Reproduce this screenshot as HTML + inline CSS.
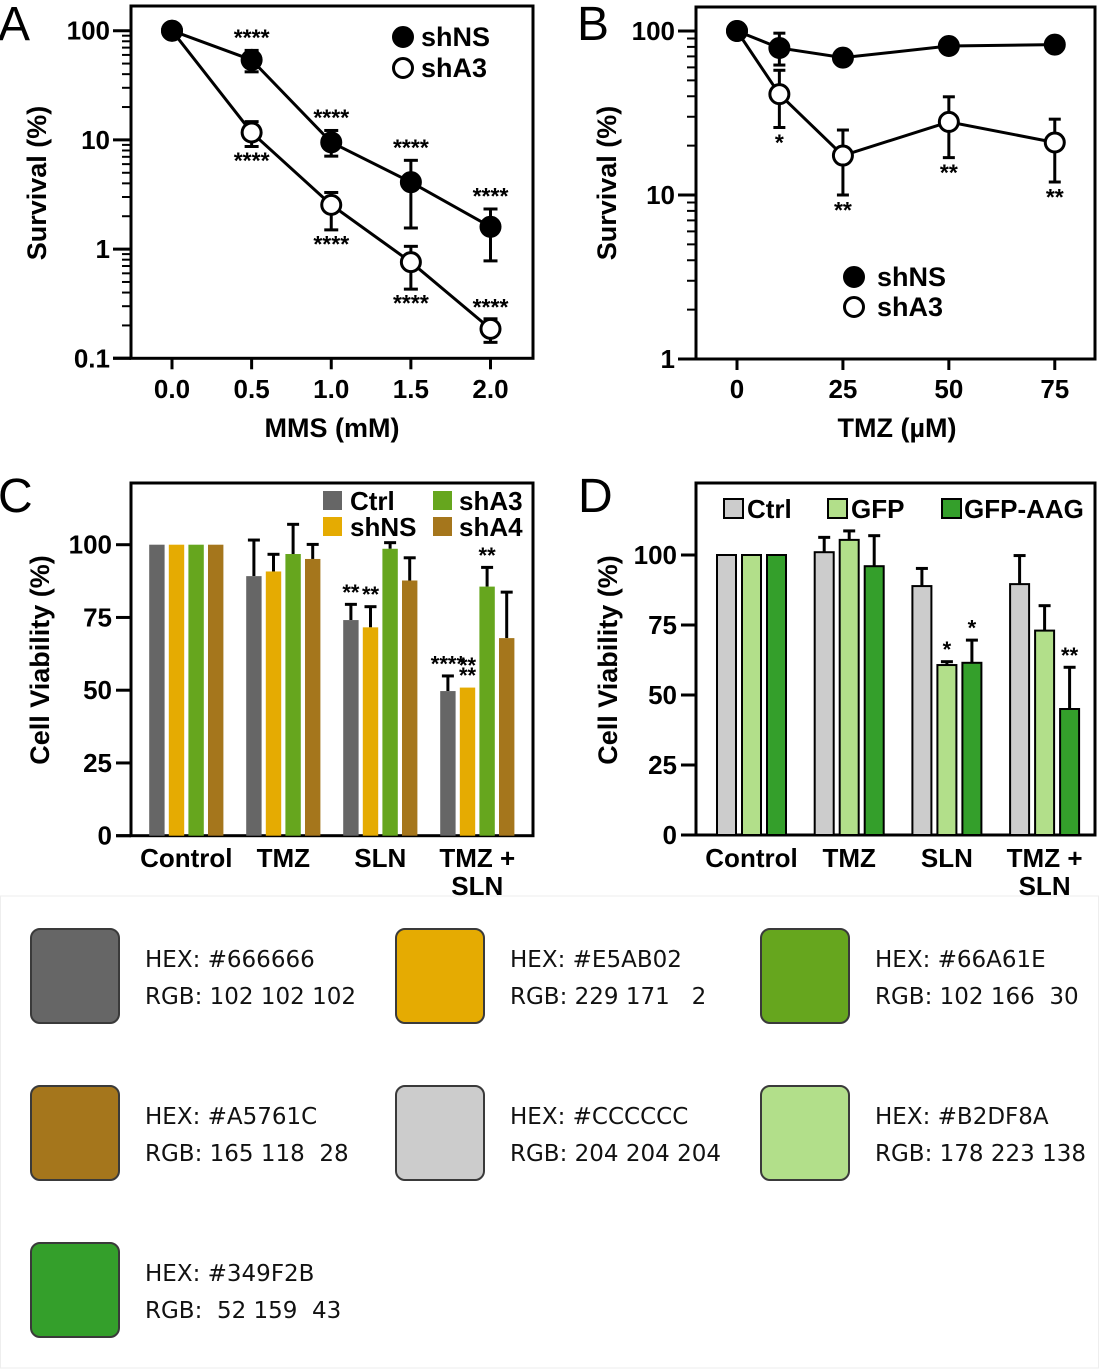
<!DOCTYPE html>
<html><head><meta charset="utf-8"><style>
html,body{margin:0;padding:0;background:#fff;}
svg{display:block;font-family:"Liberation Sans",Arial,sans-serif;}
.t{font-weight:bold;fill:#000;}
.pal{font-family:"DejaVu Sans","Liberation Sans",sans-serif;font-size:23px;fill:#111;white-space:pre;}
</style></head>
<body>
<svg id="fig" width="1099" height="1369" viewBox="0 0 1099 1369" xmlns="http://www.w3.org/2000/svg">
<g id="gA"></g>
<g id="gB"></g>
<g id="gC"></g>
<g id="gD"></g>
<g id="gP"></g>
</svg>
<script>
// ---- Panel A data ----
const aX = [0, 0.5, 1.0, 1.5, 2.0];
const aNS = [100, 54, 9.5, 4.1, 1.6];
const aNSlo = [100, 42, 7.1, 1.56, 0.78];
const aNShi = [100, 66, 12.2, 6.5, 2.33];
const aA3 = [100, 11.7, 2.54, 0.76, 0.186];
const aA3lo = [100, 8.7, 1.5, 0.43, 0.14];
const aA3hi = [100, 14.7, 3.3, 1.06, 0.23];
const aXTicks = ["0.0", "0.5", "1.0", "1.5", "2.0"];
const aYTicks = ["100", "10", "1", "0.1"];
// ---- Panel B data ----
const bX = [0, 10, 25, 50, 75];
const bNS = [100, 78.8, 68.8, 81, 82.6];
const bNSlo = [100, 62, 68.8, 81, 82.6];
const bNShi = [100, 97, 68.8, 81, 82.6];
const bA3 = [100, 41.2, 17.4, 27.9, 20.9];
const bA3lo = [100, 25.8, 10, 16.9, 12];
const bA3hi = [100, 57.6, 24.9, 39.7, 29];
const bXTicks = ["0", "25", "50", "75"];
const bYTicks = ["100", "10", "1"];
// ---- Panel C data ----
const cGroups = ["Control", "TMZ", "SLN", "TMZ +|SLN"];
const cCtrl = [100, 89.2, 74.1, 49.7];
const cCtrlErr = [100, 101.6, 79.5, 54.9];
const cShNS = [100, 90.8, 71.6, 50.9];
const cShNSErr = [100, 96.7, 78.7, 50.9];
const cShA3 = [100, 96.8, 98.6, 85.6];
const cShA3Err = [100, 107, 100.7, 92.2];
const cShA4 = [100, 95.1, 87.7, 67.9];
const cShA4Err = [100, 100.1, 95.5, 83.7];
const cYTicks = [0, 25, 50, 75, 100];
// ---- Panel D data ----
const dGroups = ["Control", "TMZ", "SLN", "TMZ +|SLN"];
const dCtrl = [100, 101, 88.9, 89.6];
const dCtrlErr = [100, 106.3, 95.2, 99.8];
const dGFP = [100, 105.4, 60.7, 73];
const dGFPErr = [100, 108.6, 61.9, 81.9];
const dAAG = [100, 96, 61.5, 45];
const dAAGErr = [100, 106.9, 69.6, 59.9];
const dYTicks = [0, 25, 50, 75, 100];
// ---- Palette data ----
const palHex = ["#666666", "#E5AB02", "#66A61E", "#A5761C", "#CCCCCC", "#B2DF8A", "#349F2B"];
const palRGB = ["102 102 102", "229 171   2", "102 166  30", "165 118  28", "204 204 204", "178 223 138", " 52 159  43"];

const NS = "http://www.w3.org/2000/svg";
function mk(parent, tag, attrs, text) {
  const e = document.createElementNS(NS, tag);
  for (const k in attrs) e.setAttribute(k, attrs[k]);
  if (text !== undefined) e.textContent = text;
  parent.appendChild(e);
  return e;
}
function line(p, x1, y1, x2, y2, w, name) {
  const e = mk(p, "line", {x1, y1, x2, y2, stroke: "#000", "stroke-width": w || 3});
  
  
  return e;
}
function txt(p, x, y, s, size, anchor, name, extra) {
  const e = mk(p, "text", Object.assign({x, y, "font-size": size, "text-anchor": anchor || "middle", "dominant-baseline": "central", class: "t"}, extra || {}), s);
  
  
  return e;
}
function letter(p, x, y, s) {
  const e = mk(p, "text", {x, y, "font-size": 48, fill: "#000"}, s);
  
  
}

// ================= Panel A =================
(function () {
  const g = document.getElementById("gA");
  const L = 131, R = 533, T = 6, B = 358.3;
  const yA = v => B - (Math.log10(v) + 1) * 109.2;
  const xA = v => 172 + v * 159.25;
  letter(g, -2, 40, "A");
  const fr = mk(g, "rect", {x: L, y: T, width: R - L, height: B - T, fill: "none", stroke: "#000", "stroke-width": 3});
  
  
  line(g, 113, B, L, B);
  for (let d = -1; d <= 2; d++) {
    const v = Math.pow(10, d);
    line(g, 113, yA(v), L, yA(v), 3, 'y-major-tick');
    if (d < 2) for (let m = 2; m <= 9; m++) line(g, 122, yA(v * m), L, yA(v * m), 2, 'y-minor-tick');
  }
  aYTicks.forEach(s => txt(g, 110, yA(parseFloat(s)), s, 26, "end", 'y-tick-label'));
  aXTicks.forEach(s => {
    const x = xA(parseFloat(s));
    line(g, x, B, x, B + 11, 3, 'x-tick');
    txt(g, x, 389, s, 26, "middle", 'x-tick-label');
  });
  txt(g, 332, 428, "MMS (mM)", 27, "middle", 'x-axis-title');
  txt(g, 37, 183, "Survival (%)", 27, "middle", 'y-axis-title', {transform: "rotate(-90 37 183)"});
  function series(vals, lo, hi, fill, nm) {
    let d = "";
    vals.forEach((v, i) => { d += (i ? "L" : "M") + xA(aX[i]) + " " + yA(v); });
    const pl = mk(g, "path", {d, fill: "none", stroke: "#000", "stroke-width": 3});
    
    
    vals.forEach((v, i) => {
      const x = xA(aX[i]);
      if (hi[i] !== lo[i]) {
        line(g, x, yA(lo[i]), x, yA(hi[i]), 3, nm + '-error-bar');
        line(g, x - 7, yA(lo[i]), x + 7, yA(lo[i]), 3, nm + '-error-cap');
        line(g, x - 7, yA(hi[i]), x + 7, yA(hi[i]), 3, nm + '-error-cap');
      }
    });
    vals.forEach((v, i) => {
      const c = mk(g, "circle", {cx: xA(aX[i]), cy: yA(v), r: 9.5, fill, stroke: "#000", "stroke-width": 3});
      
      
    });
  }
  series(aA3, aA3lo, aA3hi, "#fff", 'shA3');
  series(aNS, aNSlo, aNShi, "#000", 'shNS');
  [1, 2, 3, 4].forEach(i => txt(g, xA(aX[i]), yA(aNShi[i]) - 13, "****", 23, "middle", 'significance-shns'));
  [1, 2, 3].forEach(i => txt(g, xA(aX[i]), yA(aA3lo[i]) + 14, "****", 23, "middle", 'significance-sha3'));
  txt(g, xA(aX[4]), yA(aA3hi[4]) - 12, "****", 23, "middle", 'significance-sha3');
  let c = mk(g, "circle", {cx: 403, cy: 37, r: 9.5, fill: "#000", stroke: "#000", "stroke-width": 3});
   
  c = mk(g, "circle", {cx: 403, cy: 68, r: 9.5, fill: "#fff", stroke: "#000", "stroke-width": 3});
   
  txt(g, 421, 37, "shNS", 27, "start", 'legend-entry-shns');
  txt(g, 421, 68, "shA3", 27, "start", 'legend-entry-sha3');
})();

// ================= Panel B =================
(function () {
  const g = document.getElementById("gB");
  const L = 696, R = 1095, T = 7, B = 359;
  const yB = v => B - Math.log10(v) * 164;
  const xB = v => 737 + v * 4.237;
  letter(g, 577, 40, "B");
  const fr = mk(g, "rect", {x: L, y: T, width: R - L, height: B - T, fill: "none", stroke: "#000", "stroke-width": 3});
  
  
  line(g, 678, B, L, B);
  for (let d = 0; d <= 2; d++) {
    const v = Math.pow(10, d);
    line(g, 678, yB(v), L, yB(v), 3, 'y-major-tick');
    if (d < 2) for (let m = 2; m <= 9; m++) line(g, 687, yB(v * m), L, yB(v * m), 2, 'y-minor-tick');
  }
  bYTicks.forEach(s => txt(g, 675, yB(parseFloat(s)), s, 26, "end", 'y-tick-label'));
  bXTicks.forEach(s => {
    const x = xB(parseFloat(s));
    line(g, x, B, x, B + 11, 3, 'x-tick');
    txt(g, x, 389, s, 26, "middle", 'x-tick-label');
  });
  txt(g, 897, 428, "TMZ (\u00B5M)", 27, "middle", 'x-axis-title');
  txt(g, 607, 183, "Survival (%)", 27, "middle", 'y-axis-title', {transform: "rotate(-90 607 183)"});
  function series(vals, lo, hi, fill, nm) {
    let d = "";
    vals.forEach((v, i) => { d += (i ? "L" : "M") + xB(bX[i]) + " " + yB(v); });
    const pl = mk(g, "path", {d, fill: "none", stroke: "#000", "stroke-width": 3});
    
    
    vals.forEach((v, i) => {
      const x = xB(bX[i]);
      if (hi[i] !== lo[i]) {
        line(g, x, yB(lo[i]), x, yB(hi[i]), 3, nm + '-error-bar');
        line(g, x - 6, yB(lo[i]), x + 6, yB(lo[i]), 3, nm + '-error-cap');
        line(g, x - 6, yB(hi[i]), x + 6, yB(hi[i]), 3, nm + '-error-cap');
      }
    });
    vals.forEach((v, i) => {
      const c = mk(g, "circle", {cx: xB(bX[i]), cy: yB(v), r: 9.5, fill, stroke: "#000", "stroke-width": 3});
      
      
    });
  }
  series(bA3, bA3lo, bA3hi, "#fff", 'shA3');
  series(bNS, bNSlo, bNShi, "#000", 'shNS');
  const sig = ["", "*", "**", "**", "**"];
  [1, 2, 3, 4].forEach(i => txt(g, xB(bX[i]), yB(bA3lo[i]) + 15, sig[i], 23, "middle", 'significance-sha3'));
  let c = mk(g, "circle", {cx: 854, cy: 277, r: 9.5, fill: "#000", stroke: "#000", "stroke-width": 3});
   
  c = mk(g, "circle", {cx: 854, cy: 307, r: 9.5, fill: "#fff", stroke: "#000", "stroke-width": 3});
   
  txt(g, 877, 277, "shNS", 27, "start", 'legend-entry-shns');
  txt(g, 877, 307, "shA3", 27, "start", 'legend-entry-sha3');
})();

// ================= Bar panel helper =================
function barPanel(gid, o) {
  const g = document.getElementById(gid);
  letter(g, o.letterX, 512, o.letter);
  const fr = mk(g, "rect", {x: o.L, y: o.T, width: o.R - o.L, height: o.B - o.T, fill: "none", stroke: "#000", "stroke-width": 3});
  
  
  line(g, o.L - 15, o.B, o.L, o.B);
  o.ticks.forEach(v => {
    line(g, o.L - 15, o.y(v), o.L, o.y(v), 3, 'y-tick');
    txt(g, o.L - 19, o.y(v), String(v), 26, "end", 'y-tick-label');
  });
  txt(g, o.ytX, 660, "Cell Viability (%)", 27, "middle", 'y-axis-title', {transform: `rotate(-90 ${o.ytX} 660)`});
  const n = o.series.length;
  o.groups.forEach((gn, gi) => {
    const cx = o.g0 + gi * o.gStride;
    const parts = gn.split("|");
    txt(g, cx, 858, parts[0], 26, "middle", 'x-category-label');
    if (parts[1]) txt(g, cx, 886, parts[1], 26, "middle", 'x-category-label');
    o.series.forEach((s, si) => {
      const x = cx + (si - (n - 1) / 2) * o.stride - o.bw / 2;
      const v = s.vals[gi], e = s.err[gi];
      if (e > v) {
        line(g, x + o.bw / 2, o.y(e), x + o.bw / 2, o.y(v), 3, 'error-bar');
        line(g, x + o.bw / 2 - 6, o.y(e), x + o.bw / 2 + 6, o.y(e), 3, 'error-cap');
      }
      const r = mk(g, "rect", {x, y: o.y(v), width: o.bw, height: o.B - o.y(v), fill: s.color, stroke: o.outline ? "#000" : "none", "stroke-width": o.outline ? 2 : 0});
      
      
      if (s.sig && s.sig[gi]) {
        s.sig[gi].split("|").forEach((st, k) => txt(g, x + o.bw / 2, o.y(Math.max(e, v)) - 12 - k * 10, st, 22, "middle", 'significance-label'));
      }
    });
  });
  o.legend.forEach(l => {
    const r = mk(g, "rect", {x: l.x, y: l.y, width: l.w, height: 19, fill: l.color, stroke: o.outline ? "#000" : "none", "stroke-width": 2});
    
    
    txt(g, l.tx, l.y + 10, l.label, 26, "start", 'legend-entry-' + l.label.toLowerCase());
  });
}

// ================= Panel C =================
barPanel("gC", {
  letter: "C", letterX: -2, L: 131, R: 533, T: 483, B: 835.7,
  y: v => 835.7 - v * 2.91, ticks: cYTicks, ytX: 40,
  groups: cGroups, g0: 186.3, gStride: 97, stride: 19.6, bw: 15.4, outline: false,
  series: [
    {name: "ctrl", vals: cCtrl, err: cCtrlErr, color: "#666666", sig: ["", "", "**", "****"]},
    {name: "shns", vals: cShNS, err: cShNSErr, color: "#E5AB02", sig: ["", "", "**", "**|**"]},
    {name: "sha3", vals: cShA3, err: cShA3Err, color: "#66A61E", sig: ["", "", "", "**"]},
    {name: "sha4", vals: cShA4, err: cShA4Err, color: "#A5761C"}
  ],
  legend: [
    {x: 323, y: 491, w: 19, color: "#666666", label: "Ctrl", tx: 350},
    {x: 323, y: 517, w: 19, color: "#E5AB02", label: "shNS", tx: 350},
    {x: 433, y: 491, w: 19, color: "#66A61E", label: "shA3", tx: 459},
    {x: 433, y: 517, w: 19, color: "#A5761C", label: "shA4", tx: 459}
  ]
});

// ================= Panel D =================
barPanel("gD", {
  letter: "D", letterX: 578, L: 696, R: 1095, T: 483, B: 835,
  y: v => 835 - v * 2.8, ticks: dYTicks, ytX: 608,
  groups: dGroups, g0: 751.5, gStride: 97.7, stride: 25, bw: 19, outline: true,
  series: [
    {name: "ctrl", vals: dCtrl, err: dCtrlErr, color: "#CCCCCC"},
    {name: "gfp", vals: dGFP, err: dGFPErr, color: "#B2DF8A", sig: ["", "", "*", ""]},
    {name: "gfp-aag", vals: dAAG, err: dAAGErr, color: "#349F2B", sig: ["", "", "*", "**"]}
  ],
  legend: [
    {x: 724, y: 499, w: 19, color: "#CCCCCC", label: "Ctrl", tx: 747},
    {x: 828, y: 499, w: 19, color: "#B2DF8A", label: "GFP", tx: 851},
    {x: 942, y: 499, w: 19, color: "#349F2B", label: "GFP-AAG", tx: 964}
  ]
});

// ================= Palette =================
(function () {
  const g = document.getElementById("gP");
  const bg = mk(g, "rect", {x: 0.5, y: 896, width: 1098, height: 472, fill: "#fff", stroke: "#eeeeee", "stroke-width": 1});
  
  
  palHex.forEach((h, i) => {
    const col = i % 3, row = Math.floor(i / 3);
    const x = 31 + col * 365, y = 929 + row * 157;
    const r = mk(g, "rect", {x, y, width: 88, height: 94, rx: 9, fill: h, stroke: "#3a3a3a", "stroke-width": 2});
    
    
    const t1 = mk(g, "text", {x: x + 114, y: y + 38, class: "pal"}, "HEX: " + h);
    
    
    const t2 = mk(g, "text", {x: x + 114, y: y + 75, class: "pal"}, "RGB: " + palRGB[i]);
    
    
  });
})();
</script>
</body></html>
